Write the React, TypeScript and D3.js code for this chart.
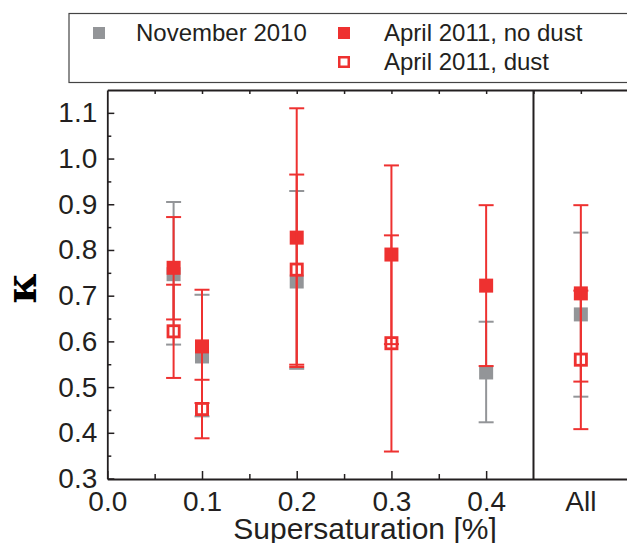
import React, { useEffect, useRef } from "react";
import * as d3 from "d3";

// axis ticks
const xTicks = [0, 0.1, 0.2, 0.3, 0.4];
const xMinorTicks = [0.05, 0.15, 0.25, 0.35];
const allPos = 0.5;
const allLabel = "All";
const yTicks = [0.3, 0.4, 0.5, 0.6, 0.7, 0.8, 0.9, 1.0, 1.1];
const yMinorTicks = [0.35, 0.45, 0.55, 0.65, 0.75, 0.85, 0.95, 1.05];

// November 2010
const novX = [0.07, 0.1, 0.2, 0.4, 0.5];
const novKappa = [0.747, 0.567, 0.731, 0.532, 0.659];
const novLow = [0.593, 0.436, 0.54, 0.423, 0.479];
const novHigh = [0.905, 0.702, 0.929, 0.643, 0.838];

// April 2011, no dust
const noDustX = [0.07, 0.1, 0.2, 0.3, 0.4, 0.5];
const noDustKappa = [0.761, 0.589, 0.827, 0.79, 0.722, 0.705];
const noDustLow = [0.648, 0.465, 0.544, 0.594, 0.546, 0.512];
const noDustHigh = [0.872, 0.713, 1.11, 0.985, 0.898, 0.898];

// April 2011, dust
const dustX = [0.07, 0.1, 0.2, 0.3, 0.5];
const dustKappa = [0.622, 0.452, 0.757, 0.596, 0.56];
const dustLow = [0.52, 0.388, 0.549, 0.359, 0.408];
const dustHigh = [0.724, 0.516, 0.965, 0.832, 0.711];

const GRAY = "#939598";
const RED = "#ee3130";
const INK = "#231f20";
const FONT = "'Liberation Sans', Arial, sans-serif";

interface Series {
  name: string;
  color: string;
  filled: boolean;
  xs: number[];
  ys: number[];
  lo: number[];
  hi: number[];
}

const series: Series[] = [
  { name: "November 2010", color: GRAY, filled: true, xs: novX, ys: novKappa, lo: novLow, hi: novHigh },
  { name: "April 2011, no dust", color: RED, filled: true, xs: noDustX, ys: noDustKappa, lo: noDustLow, hi: noDustHigh },
  { name: "April 2011, dust", color: RED, filled: false, xs: dustX, ys: dustKappa, lo: dustLow, hi: dustHigh },
];

const width = 627;
const height = 543;

const App: React.FC = () => {
  const svgRef = useRef<SVGSVGElement>(null);

  useEffect(() => {
    if (!svgRef.current) return;
    const svg = d3.select(svgRef.current);
    svg.selectAll("*").remove();

    const x = d3.scaleLinear().domain([0, 0.55]).range([107.3, 628.2]);
    const y = d3.scaleLinear().domain([0.3, 1.15]).range([478.5, 90]);
    const bottom = 479;

    const styleAxis = (g: d3.Selection<SVGGElement, unknown, null, undefined>) => {
      g.selectAll("path").attr("stroke", INK).attr("stroke-width", 1.8);
      g.selectAll("line").attr("stroke", INK).attr("stroke-width", 1.5);
      g.selectAll("text").attr("fill", INK).attr("font-family", FONT).attr("font-size", 28);
      g.attr("font-family", null).attr("font-size", null);
    };

    // bottom axis
    const xAxis = svg
      .append("g")
      .attr("transform", `translate(0,${bottom})`)
      .call(
        d3.axisBottom(x).tickValues(xTicks).tickSize(-8).tickSizeOuter(0).tickPadding(12)
          .tickFormat((d) => d3.format(".1f")(Number(d)))
      );
    styleAxis(xAxis);

    const xMinor = svg
      .append("g")
      .attr("transform", `translate(0,${bottom})`)
      .call(d3.axisBottom(x).tickValues(xMinorTicks).tickSize(-5).tickFormat(() => ""));
    xMinor.select(".domain").remove();
    styleAxis(xMinor);

    svg
      .append("text")
      .attr("x", x(allPos))
      .attr("y", 511)
      .attr("text-anchor", "middle")
      .attr("fill", INK)
      .attr("font-family", FONT)
      .attr("font-size", 28)
      .text(allLabel);

    // top axis
    const topAxis = svg
      .append("g")
      .attr("transform", `translate(0,${y(1.15)})`)
      .call(
        d3.axisTop(x).tickValues(d3.range(1, 11).map((i) => i * 0.05)).tickSize(-4).tickSizeOuter(0)
          .tickFormat(() => "")
      );
    styleAxis(topAxis);

    // left axis
    const yAxis = svg
      .append("g")
      .attr("transform", `translate(${x(0)},0)`)
      .call(
        d3.axisLeft(y).tickValues(yTicks).tickSize(-7).tickSizeOuter(0).tickPadding(10)
          .tickFormat((d) => d3.format(".1f")(Number(d)))
      );
    styleAxis(yAxis);

    const yMinor = svg
      .append("g")
      .attr("transform", `translate(${x(0)},0)`)
      .call(d3.axisLeft(y).tickValues(yMinorTicks).tickSize(-4).tickFormat(() => ""));
    yMinor.select(".domain").remove();
    styleAxis(yMinor);

    // separator between single supersaturations and "All"
    svg
      .append("line")
      .attr("x1", x(0.45))
      .attr("x2", x(0.45))
      .attr("y1", y(1.15))
      .attr("y2", bottom)
      .attr("stroke", INK)
      .attr("stroke-width", 2);

    // axis titles
    svg
      .append("text")
      .attr("x", 365)
      .attr("y", 539)
      .attr("text-anchor", "middle")
      .attr("fill", INK)
      .attr("font-family", FONT)
      .attr("font-size", 30)
      .text("Supersaturation [%]");

    svg
      .append("text")
      .attr("transform", "translate(36,288) rotate(-90)")
      .attr("text-anchor", "middle")
      .attr("fill", "#000")
      .attr("font-family", "'DejaVu Serif', 'Liberation Serif', serif")
      .attr("font-weight", "bold")
      .attr("font-size", 42)
      .text("κ");

    // error bars and markers
    const cap = 7.5;
    const size = 14;
    series.forEach((s) => {
      const g = svg.append("g");
      const pts = s.xs.map((xv, i) => ({ x: xv, y: s.ys[i], lo: s.lo[i], hi: s.hi[i] }));

      g.selectAll("line.bar")
        .data(pts)
        .enter()
        .append("line")
        .attr("x1", (d) => x(d.x))
        .attr("x2", (d) => x(d.x))
        .attr("y1", (d) => y(d.lo))
        .attr("y2", (d) => y(d.hi))
        .attr("stroke", s.color)
        .attr("stroke-width", 2);

      ["lo", "hi"].forEach((k) => {
        g.selectAll(`line.cap-${k}`)
          .data(pts)
          .enter()
          .append("line")
          .attr("x1", (d) => x(d.x) - cap)
          .attr("x2", (d) => x(d.x) + cap)
          .attr("y1", (d) => y(k === "lo" ? d.lo : d.hi))
          .attr("y2", (d) => y(k === "lo" ? d.lo : d.hi))
          .attr("stroke", s.color)
          .attr("stroke-width", 2);
      });

      if (s.filled) {
        g.selectAll("rect")
          .data(pts)
          .enter()
          .append("rect")
          .attr("x", (d) => x(d.x) - size / 2)
          .attr("y", (d) => y(d.y) - size / 2)
          .attr("width", size)
          .attr("height", size)
          .attr("fill", s.color);
      } else {
        const inner = size - 2.8;
        g.selectAll("rect")
          .data(pts)
          .enter()
          .append("rect")
          .attr("x", (d) => x(d.x) - inner / 2)
          .attr("y", (d) => y(d.y) - inner / 2)
          .attr("width", inner)
          .attr("height", inner)
          .attr("fill", "none")
          .attr("stroke", s.color)
          .attr("stroke-width", 2.8);
      }
    });

    // legend
    const legend = svg.append("g");
    legend
      .append("rect")
      .attr("x", 69)
      .attr("y", 13.5)
      .attr("width", 600)
      .attr("height", 69)
      .attr("fill", "none")
      .attr("stroke", "#444")
      .attr("stroke-width", 1.2);

    const legendPos = [
      { mx: 99, my: 33, tx: 136, ty: 41 },
      { mx: 344, my: 33, tx: 384, ty: 41 },
      { mx: 344, my: 62, tx: 384, ty: 70 },
    ];
    series.forEach((s, i) => {
      const p = legendPos[i];
      const ms = 12;
      if (s.filled) {
        legend
          .append("rect")
          .attr("x", p.mx - ms / 2)
          .attr("y", p.my - ms / 2)
          .attr("width", ms)
          .attr("height", ms)
          .attr("fill", s.color);
      } else {
        legend
          .append("rect")
          .attr("x", p.mx - (ms - 2.5) / 2)
          .attr("y", p.my - (ms - 2.5) / 2)
          .attr("width", ms - 2.5)
          .attr("height", ms - 2.5)
          .attr("fill", "none")
          .attr("stroke", s.color)
          .attr("stroke-width", 2.5);
      }
      legend
        .append("text")
        .attr("x", p.tx)
        .attr("y", p.ty)
        .attr("fill", INK)
        .attr("font-family", FONT)
        .attr("font-size", 24)
        .text(s.name);
    });
  }, []);

  return (
    <svg
      ref={svgRef}
      width={width}
      height={height}
      style={{ position: "absolute", left: 0, top: 0, background: "#fff" }}
    />
  );
};

export default App;
